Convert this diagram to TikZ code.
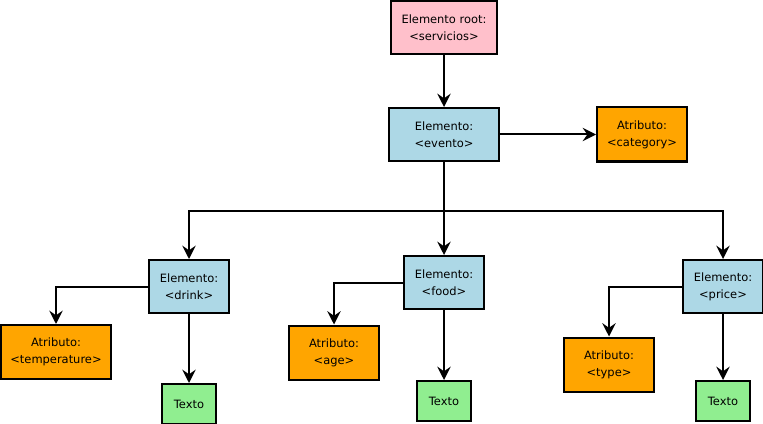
\documentclass[tikz,border=0pt]{standalone}
\usepackage{fontspec}
\setmainfont{DejaVu Sans}
\usetikzlibrary{arrows.meta}

\tikzset{boite/.style = {draw, line width=1.5pt, align=center, inner sep=0pt,
                         font=\fontsize{8.6}{12.8}\selectfont},
         racine/.style = {boite, fill=rootpink, minimum width=79.5pt, minimum height=39.75pt},
         elem/.style = {boite, fill=elemblue, minimum width=#1, minimum height=39.75pt},
         elem/.default=60pt,
         attr/.style = {boite, fill=attrorange, minimum width=#1, minimum height=40.5pt},
         attr/.default=67.5pt,
         texte/.style = {boite, fill=textgreen, minimum width=40.5pt, minimum height=30pt},
         fleche/.style = {line width=1.5pt, -{Stealth[length=10pt,width=10pt,inset=3.5pt]}}
        }
\definecolor{rootpink}{HTML}{FFC0CB}
\definecolor{elemblue}{HTML}{ADD8E6}
\definecolor{attrorange}{HTML}{FFA500}
\definecolor{textgreen}{HTML}{90EE90}

\begin{document}
\begin{tikzpicture}[x=0.75pt,y=-0.75pt]
\useasboundingbox (0,0) rectangle (763,424);
\node[racine] at (444,27.5) (root) {Elemento root:\\<servicios>};
\node[elem=82.5pt] at (444,134.5) (evento) {Elemento:\\<evento>};
\node[attr] at (642,134.5) (cat) {Atributo:\\<category>};
\coordinate (split) at (444,211);
\node[elem] at (189,286.5) (drink) {Elemento:\\<drink>};
\node[elem] at (444,282.5) (food) {Elemento:\\<food>};
\node[elem] at (723,286.5) (price) {Elemento:\\<price>};
\node[attr=82.5pt] at (56,352) (temp) {Atributo:\\<temperature>};
\node[attr] at (334,352.5) (age) {Atributo:\\<age>};
\node[attr] at (609,364.5) (type) {Atributo:\\<type>};
\node[texte] at (189,404) (txtdrink) {Texto};
\node[texte] at (444,401) (txtfood) {Texto};
\node[texte] at (723,401) (txtprice) {Texto};
\draw[fleche] (root) -- (evento);
\draw[fleche] (evento) -- (cat);
\draw[line width=1.5pt] (evento) -- (split);
\draw[fleche] (split) -| (drink);
\draw[fleche] (split) -- (food);
\draw[fleche] (split) -| (price);
\draw[fleche] (drink) -| (temp);
\draw[fleche] (food) -| (age);
\draw[fleche] (price) -| (type);
\draw[fleche] (drink) -- (txtdrink);
\draw[fleche] (food) -- (txtfood);
\draw[fleche] (price) -- (txtprice);
\end{tikzpicture}
\end{document}
